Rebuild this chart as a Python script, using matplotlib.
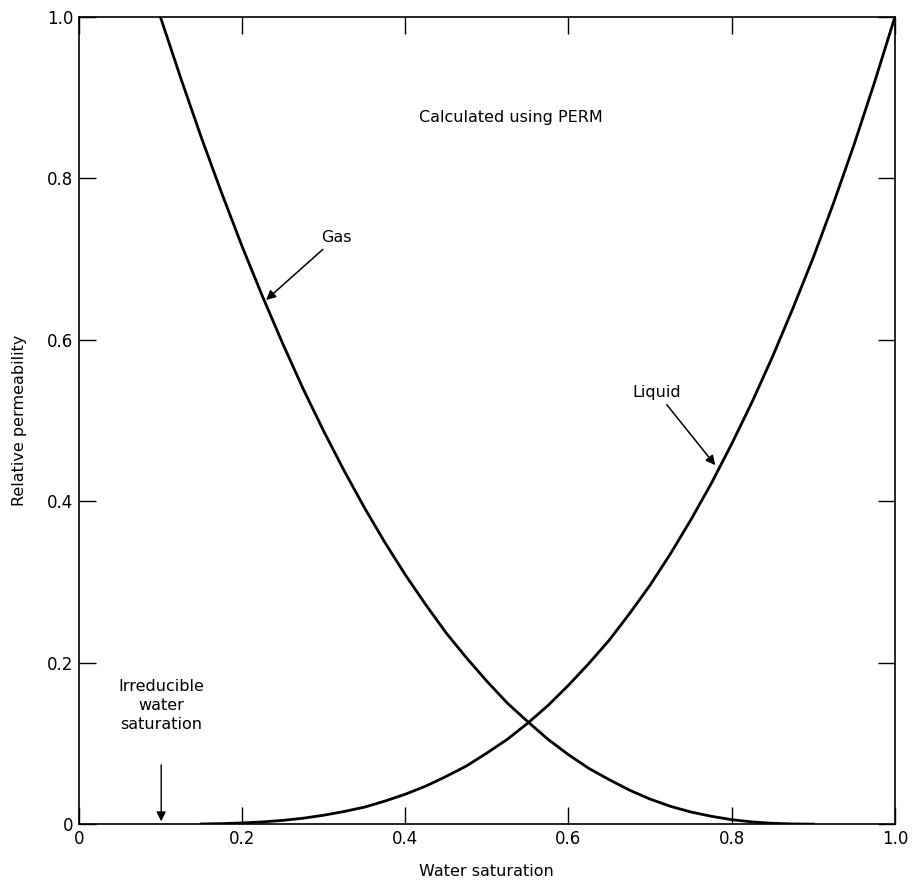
import numpy as np
import matplotlib.pyplot as plt

# values
sw_gas = [0.10, 0.125, 0.15, 0.175, 0.20, 0.225, 0.25, 0.275, 0.30, 0.325, 0.35,
          0.375, 0.40, 0.425, 0.45, 0.475, 0.50, 0.525, 0.55, 0.575, 0.60, 0.625,
          0.65, 0.675, 0.70, 0.725, 0.75, 0.775, 0.80, 0.825, 0.85, 0.875, 0.90]
kr_gas = [1.000, 0.924, 0.851, 0.782, 0.716, 0.654, 0.595, 0.539, 0.487, 0.438, 0.392,
          0.349, 0.309, 0.272, 0.237, 0.206, 0.177, 0.150, 0.127, 0.105, 0.086, 0.069,
          0.055, 0.042, 0.031, 0.022, 0.015, 0.0097, 0.0055, 0.0027, 0.001, 0.0002, 0.0]

sw_liq = [0.15, 0.175, 0.20, 0.225, 0.25, 0.275, 0.30, 0.325, 0.35, 0.375, 0.40,
          0.425, 0.45, 0.475, 0.50, 0.525, 0.55, 0.575, 0.60, 0.625, 0.65, 0.675,
          0.70, 0.725, 0.75, 0.775, 0.80, 0.825, 0.85, 0.875, 0.90, 0.925, 0.95,
          0.975, 1.00]
kr_liq = [0.0002, 0.0006, 0.0014, 0.0027, 0.0046, 0.0073, 0.011, 0.0156, 0.021, 0.0285, 0.037,
          0.047, 0.059, 0.072, 0.088, 0.105, 0.125, 0.147, 0.172, 0.199, 0.228, 0.261,
          0.296, 0.335, 0.377, 0.422, 0.471, 0.523, 0.579, 0.639, 0.702, 0.770, 0.842,
          0.919, 1.000]

ticks = [0, 0.2, 0.4, 0.6, 0.8, 1.0]
tick_labels = ['0', '0.2', '0.4', '0.6', '0.8', '1.0']

fig = plt.figure(figsize=(9.16, 8.89), dpi=100)
ax = fig.add_axes([0.086, 0.073, 0.891, 0.908])

ax.plot(sw_gas, kr_gas, color='black', lw=2.0, solid_joinstyle='round')
ax.plot(sw_liq, kr_liq, color='black', lw=2.0, solid_joinstyle='round')

ax.set_xlim(0, 1.0)
ax.set_ylim(0, 1.0)
ax.set_xticks(ticks)
ax.set_xticklabels(tick_labels)
ax.set_yticks(ticks)
ax.set_yticklabels(tick_labels)
ax.tick_params(direction='in', length=12, width=1.0, top=True, right=True,
               labelsize=12, pad=4)
for s in ax.spines.values():
    s.set_linewidth(1.2)

ax.set_xlabel('Water saturation', fontsize=11.5, labelpad=12)
ax.set_ylabel('Relative permeability', fontsize=11.5, labelpad=14)

ax.text(0.53, 0.875, 'Calculated using PERM', fontsize=11.5, ha='center', va='center')

arrow = dict(arrowstyle='-|>', color='black', lw=1.1, mutation_scale=14)
ax.annotate('Gas', xy=(0.227, 0.647), xytext=(0.297, 0.727), fontsize=11.5,
            ha='left', va='center', arrowprops=arrow)
ax.annotate('Liquid', xy=(0.782, 0.442), xytext=(0.738, 0.535), fontsize=11.5,
            ha='right', va='center', arrowprops=arrow)
ax.annotate('Irreducible\nwater\nsaturation', xy=(0.101, 0.0), xytext=(0.101, 0.147),
            fontsize=11.5, ha='center', va='center', linespacing=1.3,
            arrowprops=dict(arrowstyle='-|>', color='black', lw=1.0, mutation_scale=14,
                            shrinkA=22))

fig.savefig('out.png', dpi=100)
